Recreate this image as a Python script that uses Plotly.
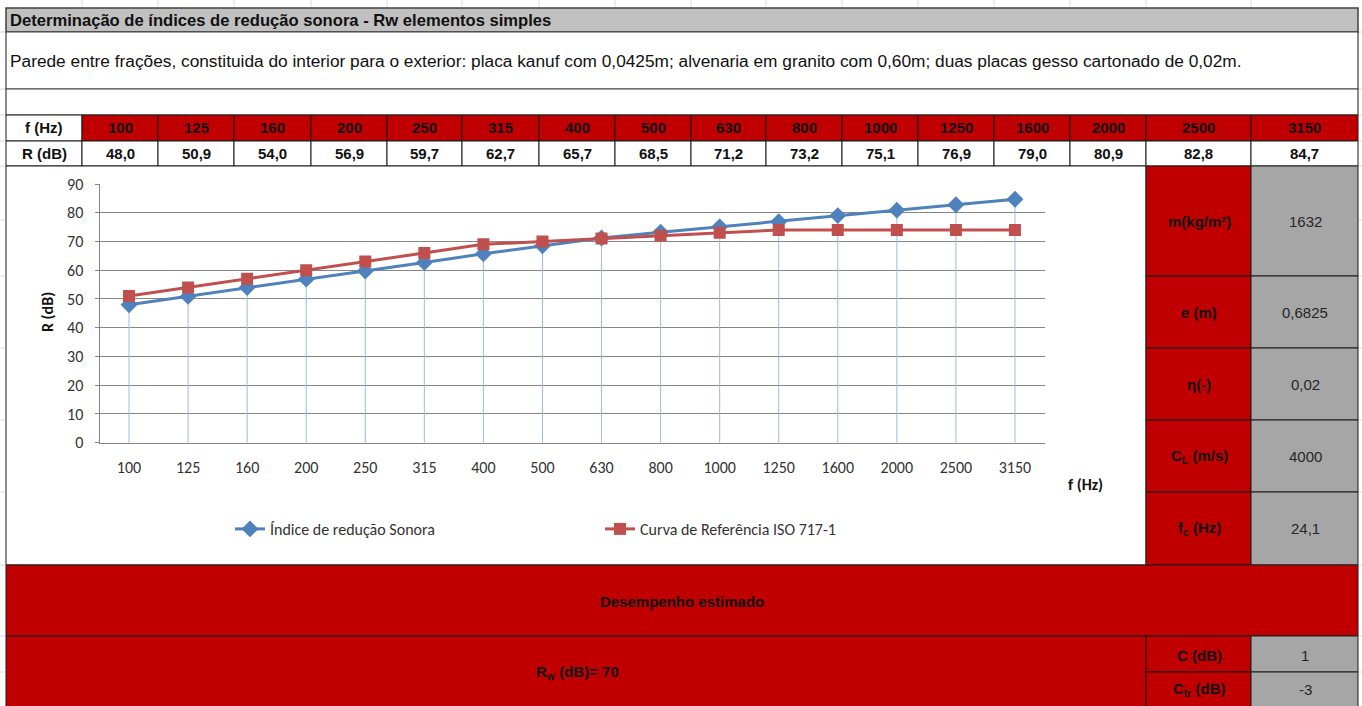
import plotly.graph_objects as go

# ---- data -----------------------------------------------------------------
freqs = ["100", "125", "160", "200", "250", "315", "400", "500",
         "630", "800", "1000", "1250", "1600", "2000", "2500", "3150"]
r_values = [48.0, 50.9, 54.0, 56.9, 59.7, 62.7, 65.7, 68.5,
            71.2, 73.2, 75.1, 76.9, 79.0, 80.9, 82.8, 84.7]
ref_curve = [51, 54, 57, 60, 63, 66, 69, 70, 71, 72, 73, 74, 74, 74, 74, 74]

param_labels = ["m(kg/m²)", "e (m)", "η(-)", "C<sub>L</sub> (m/s)", "f<sub>c</sub> (Hz)"]
param_values = ["1632", "0,6825", "0,02", "4000", "24,1"]

rw_value = 70
c_value = "1"
ctr_value = "-3"

title_text = "Determinação de índices de redução sonora - Rw elementos simples"
desc_text = ("Parede entre frações, constituida do interior para o exterior: placa kanuf com 0,0425m; "
             "alvenaria em granito com 0,60m; duas placas gesso cartonado de 0,02m.")

# ---- page geometry (pixels) -----------------------------------------------
W, H = 1362, 706
LEFT, RIGHT = 6, 1358
col_edges = [82, 158, 234, 311, 387, 462, 539, 615, 691, 766, 842, 918,
             994, 1070, 1146, 1251, 1358]
param_rows = [166, 276, 348, 420, 492, 565]

RED = "#c00000"
GREY_CELL = "#a6a6a6"
GREY_TITLE = "#c0c0c0"
BORDER = "#1a1a1a"
FAINT = "#dadada"

NARROW = "Liberation Sans Narrow, Arial Narrow, Liberation Sans, Arial, sans-serif"
ARIAL = "Liberation Sans, Arial, sans-serif"
CHART_FONT = "Calibri, Carlito, Lato, sans-serif"


def px(x):
    return x / W


def py(y):
    return 1 - y / H


shapes = []
annotations = []


def rect(x0, y0, x1, y1, fill, line=BORDER, lw=1):
    shapes.append(dict(type="rect", xref="paper", yref="paper",
                       x0=px(x0), x1=px(x1), y0=py(y1), y1=py(y0),
                       fillcolor=fill, line=dict(color=line, width=lw),
                       layer="below"))


def seg(x0, y0, x1, y1, color, lw=1):
    shapes.append(dict(type="line", xref="paper", yref="paper",
                       x0=px(x0), x1=px(x1), y0=py(y0), y1=py(y1),
                       line=dict(color=color, width=lw), layer="below"))


def text(x, y, s, size=15, family=NARROW, bold=True, color="#111111",
         xanchor="center"):
    annotations.append(dict(xref="paper", yref="paper", x=px(x), y=py(y),
                            text=s, showarrow=False, xanchor=xanchor,
                            yanchor="middle",
                            font=dict(family=family, size=size, color=color,
                                      weight="bold" if bold else "normal")))


# faint worksheet grid around the block
for x in col_edges[:-1]:
    seg(x, 0, x, 7, FAINT)
for y in [32, 89, 115, 141, 166, 220, 276, 348, 420, 492, 565, 636, 672]:
    seg(0, y, 5, y, FAINT)
    seg(1359, y, W, y, FAINT)

# title rows
rect(LEFT, 8, RIGHT, 32, GREY_TITLE, "#404040", 1.5)
rect(LEFT, 32, RIGHT, 89, "white", "#404040", 1.2)
rect(LEFT, 89, RIGHT, 115, "white", "#404040", 1.2)
text(8, 20, title_text, size=16.6, family=ARIAL, xanchor="left")
text(8, 61, desc_text, size=17.3, family=ARIAL, bold=False, xanchor="left")

# frequency / R table
rect(LEFT, 115, col_edges[0], 141, "white")
rect(LEFT, 141, col_edges[0], 166, "white")
text((LEFT + col_edges[0]) / 2, 128, "f (Hz)")
text((LEFT + col_edges[0]) / 2, 154, "R (dB)")
for i, (f, r) in enumerate(zip(freqs, r_values)):
    x0, x1 = col_edges[i], col_edges[i + 1]
    rect(x0, 115, x1, 141, RED)
    rect(x0, 141, x1, 166, "white")
    text((x0 + x1) / 2, 128, f)
    text((x0 + x1) / 2, 154, f"{r:.1f}".replace(".", ","))

# chart area
rect(LEFT, 166, 1146, 565, "white", BORDER, 1)

# parameter panel
for i, (lab, val) in enumerate(zip(param_labels, param_values)):
    y0, y1 = param_rows[i], param_rows[i + 1]
    rect(1146, y0, 1251, y1, RED)
    rect(1251, y0, 1358, y1, GREY_CELL)
    text(1199, (y0 + y1) / 2, lab)
    text(1305, (y0 + y1) / 2, val, family=ARIAL, bold=False, color="#262626", size=15)

# estimated performance block
rect(LEFT, 565, RIGHT, 636, RED)
text(682, 601, "Desempenho estimado")
rect(LEFT, 636, 1146, 712, RED)
text(577, 672, f"R<sub>w</sub> (dB)= {rw_value}")
rect(1146, 636, 1251, 672, RED)
rect(1251, 636, 1358, 672, GREY_CELL)
rect(1146, 672, 1251, 712, RED)
rect(1251, 672, 1358, 712, GREY_CELL)
text(1199, 655, "C (dB)")
text(1305, 655, c_value, family=ARIAL, bold=False, color="#262626")
text(1199, 689, "C<sub>tr</sub> (dB)")
text(1305, 689, ctr_value, family=ARIAL, bold=False, color="#262626")

# axis titles
text(47, 312, "R (dB)", size=16, family=CHART_FONT)
annotations[-1]["textangle"] = -90
text(1085, 484, "f (Hz)", size=16, family=CHART_FONT)

# ---- chart traces ---------------------------------------------------------
drop_x, drop_y = [], []
for f, r, c in zip(freqs, r_values, ref_curve):
    drop_x += [f, f, None]
    drop_y += [max(r, c), 0, None]

fig = go.Figure()
fig.add_trace(go.Scatter(x=drop_x, y=drop_y, mode="lines",
                         line=dict(color="#9dbbe0", width=1),
                         showlegend=False, hoverinfo="skip"))
fig.add_trace(go.Scatter(x=freqs, y=r_values, mode="lines+markers",
                         name="Índice de redução Sonora",
                         line=dict(color="#4f81bd", width=3),
                         marker=dict(symbol="diamond", size=13, color="#4f81bd")))
fig.add_trace(go.Scatter(x=freqs, y=ref_curve, mode="lines+markers",
                         name="Curva de Referência ISO 717-1",
                         line=dict(color="#c0504d", width=3),
                         marker=dict(symbol="square", size=12, color="#c0504d")))

fig.update_layout(
    width=W, height=H,
    margin=dict(l=0, r=0, t=0, b=0, pad=0, autoexpand=False),
    paper_bgcolor="white", plot_bgcolor="rgba(0,0,0,0)",
    shapes=shapes, annotations=annotations,
    showlegend=True,
    legend=dict(orientation="h", x=px(230), xanchor="left",
                y=py(529), yanchor="middle",
                entrywidth=325, entrywidthmode="pixels",
                font=dict(family=CHART_FONT, size=16, color="#333333"),
                bgcolor="rgba(0,0,0,0)"),
    xaxis=dict(type="category", categoryorder="array", categoryarray=freqs,
               range=[-0.5, 15.5], domain=[px(99.5), px(1044.5)],
               showgrid=False, showline=True, linecolor="#868686", linewidth=1,
               ticks="", ticklabelstandoff=10, automargin=False,
               tickfont=dict(family=CHART_FONT, size=16, color="#333333")),
    yaxis=dict(range=[0, 90], dtick=10, domain=[py(442.7), py(184)],
               showgrid=True, gridcolor="#868686", gridwidth=1,
               showline=True, linecolor="#868686", linewidth=1,
               ticks="outside", ticklen=4, tickcolor="#868686",
               zeroline=False, ticklabelstandoff=8, automargin=False,
               tickfont=dict(family=CHART_FONT, size=16, color="#333333")),
)

fig.write_html("out.html")
